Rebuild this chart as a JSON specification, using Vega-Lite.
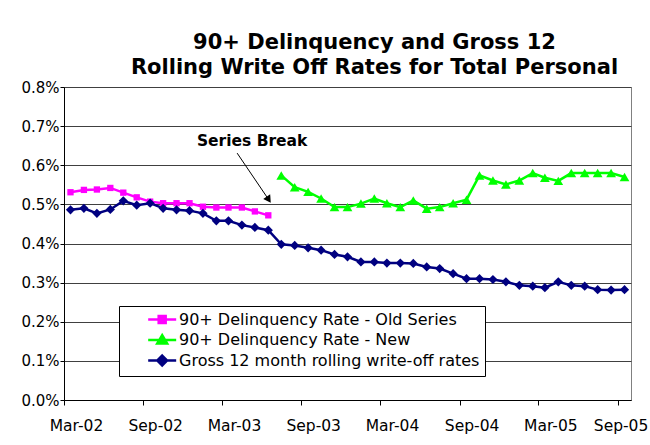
{
  "$schema": "https://vega.github.io/schema/vega-lite/v6.json",
  "width": 567,
  "height": 313,
  "autosize": "none",
  "padding": {"left": 64, "top": 87, "right": 19, "bottom": 45},
  "background": "white",
  "config": {
    "font": "DejaVu Sans",
    "view": {"stroke": "#808080", "strokeWidth": 1}
  },
  "title": {
    "text": ["90+ Delinquency and Gross 12", "Rolling Write Off Rates for Total Personal"],
    "font": "DejaVu Sans",
    "fontSize": 21,
    "fontWeight": "bold",
    "color": "black",
    "lineHeight": 25,
    "anchor": "middle",
    "dx": 27,
    "offset": 2
  },
  "data": {
    "values": [
      {"date": "2002-03-01", "series": "90+ Delinquency Rate - Old Series", "value": 0.531},
      {"date": "2002-04-01", "series": "90+ Delinquency Rate - Old Series", "value": 0.537},
      {"date": "2002-05-01", "series": "90+ Delinquency Rate - Old Series", "value": 0.538},
      {"date": "2002-06-01", "series": "90+ Delinquency Rate - Old Series", "value": 0.542},
      {"date": "2002-07-01", "series": "90+ Delinquency Rate - Old Series", "value": 0.530},
      {"date": "2002-08-01", "series": "90+ Delinquency Rate - Old Series", "value": 0.518},
      {"date": "2002-09-01", "series": "90+ Delinquency Rate - Old Series", "value": 0.507},
      {"date": "2002-10-01", "series": "90+ Delinquency Rate - Old Series", "value": 0.503},
      {"date": "2002-11-01", "series": "90+ Delinquency Rate - Old Series", "value": 0.503},
      {"date": "2002-12-01", "series": "90+ Delinquency Rate - Old Series", "value": 0.503},
      {"date": "2003-01-01", "series": "90+ Delinquency Rate - Old Series", "value": 0.494},
      {"date": "2003-02-01", "series": "90+ Delinquency Rate - Old Series", "value": 0.492},
      {"date": "2003-03-01", "series": "90+ Delinquency Rate - Old Series", "value": 0.492},
      {"date": "2003-04-01", "series": "90+ Delinquency Rate - Old Series", "value": 0.492},
      {"date": "2003-05-01", "series": "90+ Delinquency Rate - Old Series", "value": 0.482},
      {"date": "2003-06-01", "series": "90+ Delinquency Rate - Old Series", "value": 0.472},

      {"date": "2003-07-01", "series": "90+ Delinquency Rate - New", "value": 0.574},
      {"date": "2003-08-01", "series": "90+ Delinquency Rate - New", "value": 0.544},
      {"date": "2003-09-01", "series": "90+ Delinquency Rate - New", "value": 0.532},
      {"date": "2003-10-01", "series": "90+ Delinquency Rate - New", "value": 0.515},
      {"date": "2003-11-01", "series": "90+ Delinquency Rate - New", "value": 0.493},
      {"date": "2003-12-01", "series": "90+ Delinquency Rate - New", "value": 0.493},
      {"date": "2004-01-01", "series": "90+ Delinquency Rate - New", "value": 0.502},
      {"date": "2004-02-01", "series": "90+ Delinquency Rate - New", "value": 0.515},
      {"date": "2004-03-01", "series": "90+ Delinquency Rate - New", "value": 0.503},
      {"date": "2004-04-01", "series": "90+ Delinquency Rate - New", "value": 0.493},
      {"date": "2004-05-01", "series": "90+ Delinquency Rate - New", "value": 0.510},
      {"date": "2004-06-01", "series": "90+ Delinquency Rate - New", "value": 0.489},
      {"date": "2004-07-01", "series": "90+ Delinquency Rate - New", "value": 0.493},
      {"date": "2004-08-01", "series": "90+ Delinquency Rate - New", "value": 0.503},
      {"date": "2004-09-01", "series": "90+ Delinquency Rate - New", "value": 0.512},
      {"date": "2004-10-01", "series": "90+ Delinquency Rate - New", "value": 0.574},
      {"date": "2004-11-01", "series": "90+ Delinquency Rate - New", "value": 0.561},
      {"date": "2004-12-01", "series": "90+ Delinquency Rate - New", "value": 0.551},
      {"date": "2005-01-01", "series": "90+ Delinquency Rate - New", "value": 0.561},
      {"date": "2005-02-01", "series": "90+ Delinquency Rate - New", "value": 0.580},
      {"date": "2005-03-01", "series": "90+ Delinquency Rate - New", "value": 0.568},
      {"date": "2005-04-01", "series": "90+ Delinquency Rate - New", "value": 0.560},
      {"date": "2005-05-01", "series": "90+ Delinquency Rate - New", "value": 0.580},
      {"date": "2005-06-01", "series": "90+ Delinquency Rate - New", "value": 0.580},
      {"date": "2005-07-01", "series": "90+ Delinquency Rate - New", "value": 0.580},
      {"date": "2005-08-01", "series": "90+ Delinquency Rate - New", "value": 0.580},
      {"date": "2005-09-01", "series": "90+ Delinquency Rate - New", "value": 0.570},

      {"date": "2002-03-01", "series": "Gross 12 month rolling write-off rates", "value": 0.486},
      {"date": "2002-04-01", "series": "Gross 12 month rolling write-off rates", "value": 0.490},
      {"date": "2002-05-01", "series": "Gross 12 month rolling write-off rates", "value": 0.477},
      {"date": "2002-06-01", "series": "Gross 12 month rolling write-off rates", "value": 0.487},
      {"date": "2002-07-01", "series": "Gross 12 month rolling write-off rates", "value": 0.509},
      {"date": "2002-08-01", "series": "Gross 12 month rolling write-off rates", "value": 0.498},
      {"date": "2002-09-01", "series": "Gross 12 month rolling write-off rates", "value": 0.503},
      {"date": "2002-10-01", "series": "Gross 12 month rolling write-off rates", "value": 0.490},
      {"date": "2002-11-01", "series": "Gross 12 month rolling write-off rates", "value": 0.486},
      {"date": "2002-12-01", "series": "Gross 12 month rolling write-off rates", "value": 0.484},
      {"date": "2003-01-01", "series": "Gross 12 month rolling write-off rates", "value": 0.477},
      {"date": "2003-02-01", "series": "Gross 12 month rolling write-off rates", "value": 0.458},
      {"date": "2003-03-01", "series": "Gross 12 month rolling write-off rates", "value": 0.458},
      {"date": "2003-04-01", "series": "Gross 12 month rolling write-off rates", "value": 0.447},
      {"date": "2003-05-01", "series": "Gross 12 month rolling write-off rates", "value": 0.441},
      {"date": "2003-06-01", "series": "Gross 12 month rolling write-off rates", "value": 0.434},
      {"date": "2003-07-01", "series": "Gross 12 month rolling write-off rates", "value": 0.398},
      {"date": "2003-08-01", "series": "Gross 12 month rolling write-off rates", "value": 0.395},
      {"date": "2003-09-01", "series": "Gross 12 month rolling write-off rates", "value": 0.389},
      {"date": "2003-10-01", "series": "Gross 12 month rolling write-off rates", "value": 0.383},
      {"date": "2003-11-01", "series": "Gross 12 month rolling write-off rates", "value": 0.372},
      {"date": "2003-12-01", "series": "Gross 12 month rolling write-off rates", "value": 0.366},
      {"date": "2004-01-01", "series": "Gross 12 month rolling write-off rates", "value": 0.353},
      {"date": "2004-02-01", "series": "Gross 12 month rolling write-off rates", "value": 0.353},
      {"date": "2004-03-01", "series": "Gross 12 month rolling write-off rates", "value": 0.350},
      {"date": "2004-04-01", "series": "Gross 12 month rolling write-off rates", "value": 0.350},
      {"date": "2004-05-01", "series": "Gross 12 month rolling write-off rates", "value": 0.349},
      {"date": "2004-06-01", "series": "Gross 12 month rolling write-off rates", "value": 0.340},
      {"date": "2004-07-01", "series": "Gross 12 month rolling write-off rates", "value": 0.336},
      {"date": "2004-08-01", "series": "Gross 12 month rolling write-off rates", "value": 0.323},
      {"date": "2004-09-01", "series": "Gross 12 month rolling write-off rates", "value": 0.310},
      {"date": "2004-10-01", "series": "Gross 12 month rolling write-off rates", "value": 0.310},
      {"date": "2004-11-01", "series": "Gross 12 month rolling write-off rates", "value": 0.308},
      {"date": "2004-12-01", "series": "Gross 12 month rolling write-off rates", "value": 0.302},
      {"date": "2005-01-01", "series": "Gross 12 month rolling write-off rates", "value": 0.293},
      {"date": "2005-02-01", "series": "Gross 12 month rolling write-off rates", "value": 0.291},
      {"date": "2005-03-01", "series": "Gross 12 month rolling write-off rates", "value": 0.287},
      {"date": "2005-04-01", "series": "Gross 12 month rolling write-off rates", "value": 0.302},
      {"date": "2005-05-01", "series": "Gross 12 month rolling write-off rates", "value": 0.293},
      {"date": "2005-06-01", "series": "Gross 12 month rolling write-off rates", "value": 0.291},
      {"date": "2005-07-01", "series": "Gross 12 month rolling write-off rates", "value": 0.282},
      {"date": "2005-08-01", "series": "Gross 12 month rolling write-off rates", "value": 0.281},
      {"date": "2005-09-01", "series": "Gross 12 month rolling write-off rates", "value": 0.282}
    ]
  },
  "encoding": {
    "x": {
      "field": "date",
      "type": "temporal",
      "scale": {
        "domain": [
          {"year": 2002, "month": 2, "date": 14, "utc": true},
          {"year": 2005, "month": 9, "date": 16, "utc": true}
        ]
      },
      "axis": {
        "title": null,
        "grid": false,
        "values": [
          {"year": 2002, "month": 2, "date": 14, "utc": true},
          {"year": 2002, "month": 8, "date": 16, "utc": true},
          {"year": 2003, "month": 2, "date": 14, "utc": true},
          {"year": 2003, "month": 8, "date": 16, "utc": true},
          {"year": 2004, "month": 2, "date": 14, "utc": true},
          {"year": 2004, "month": 8, "date": 16, "utc": true},
          {"year": 2005, "month": 2, "date": 14, "utc": true},
          {"year": 2005, "month": 8, "date": 16, "utc": true}
        ],
        "labelExpr": "utcFormat(datum.value + 1728000000, '%b-%y')",
        "labelOffset": {"condition": {"test": "datum.value > 1117584000000", "value": 3}, "value": 12},
        "labelFlush": false,
        "labelOverlap": false,
        "labelFont": "DejaVu Sans",
        "labelFontSize": 15.5,
        "labelColor": "black",
        "labelPadding": 13,
        "tickSize": 5,
        "tickColor": "black",
        "domainColor": "black"
      }
    },
    "y": {
      "field": "value",
      "type": "quantitative",
      "scale": {"domain": [0, 0.8], "nice": false, "zero": true},
      "axis": {
        "title": null,
        "values": [0, 0.1, 0.2, 0.3, 0.4, 0.5, 0.6, 0.7, 0.8],
        "labelExpr": "format(datum.value, '.1f') + '%'",
        "grid": true,
        "gridColor": "#404040",
        "gridWidth": 1,
        "tickSize": 4,
        "tickColor": "black",
        "domainColor": "black",
        "labelFont": "DejaVu Sans",
        "labelFontSize": 15,
        "labelColor": "black",
        "labelPadding": 1
      }
    }
  },
  "layer": [
    {
      "mark": {"type": "line", "strokeWidth": 2.5},
      "encoding": {
        "color": {
          "field": "series",
          "type": "nominal",
          "scale": {
            "domain": ["90+ Delinquency Rate - Old Series", "90+ Delinquency Rate - New", "Gross 12 month rolling write-off rates"],
            "range": ["#FF00FF", "#00FF00", "#000080"]
          },
          "legend": {
            "title": null,
            "orient": "none",
            "legendX": 55,
            "legendY": 219,
            "strokeColor": "black",
            "fillColor": "white",
            "padding": 5,
            "cornerRadius": 0,
            "labelFont": "DejaVu Sans",
            "labelFontSize": 16,
            "labelColor": "black",
            "labelLimit": 500,
            "labelOffset": 38,
            "symbolSize": 196,
            "symbolStrokeWidth": 2.5,
            "rowPadding": 1.5,
            "encode": {
              "symbols": {
                "update": {
                  "shape": {"signal": "datum.value === '90+ Delinquency Rate - Old Series' ? 'M2.24,0H6.24M3.74,-0.5H4.74V0.5H3.74Z' : datum.value === '90+ Delinquency Rate - New' ? 'M2.24,0H6.24M4.24,-0.7L4.95,0.5H3.53Z' : 'M2.24,0H6.24M4.24,-0.7L4.94,0L4.24,0.7L3.54,0Z'"},
                  "fill": {"scale": "color", "field": "value"},
                  "stroke": {"scale": "color", "field": "value"},
                  "strokeWidth": {"value": 2.5},
                  "opacity": {"value": 1}
                }
              }
            }
          }
        }
      }
    },
    {
      "transform": [{"filter": "datum.series === '90+ Delinquency Rate - Old Series'"}],
      "mark": {"type": "point", "shape": "square", "size": 40, "filled": true, "opacity": 1},
      "encoding": {"color": {"field": "series", "type": "nominal"}}
    },
    {
      "transform": [{"filter": "datum.series === '90+ Delinquency Rate - New'"}],
      "mark": {"type": "point", "shape": "triangle-up", "size": 95, "filled": true, "opacity": 1},
      "encoding": {"color": {"field": "series", "type": "nominal"}}
    },
    {
      "transform": [{"filter": "datum.series === 'Gross 12 month rolling write-off rates'"}],
      "mark": {"type": "point", "shape": "diamond", "size": 85, "filled": true, "opacity": 1},
      "encoding": {"color": {"field": "series", "type": "nominal"}}
    },
    {
      "data": {"values": [{"date": "2002-12-18", "value": 0.648, "label": "Series Break"}]},
      "mark": {"type": "text", "align": "left", "baseline": "alphabetic", "font": "DejaVu Sans", "fontWeight": "bold", "fontSize": 15.5, "color": "black"},
      "encoding": {"text": {"field": "label"}}
    },
    {
      "data": {"values": [{"date": "2003-03-21", "value": 0.631, "date2": "2003-06-02", "value2": 0.512}]},
      "mark": {"type": "rule", "color": "black", "strokeWidth": 1},
      "encoding": {"x2": {"field": "date2"}, "y2": {"field": "value2"}}
    },
    {
      "data": {"values": [{"date": "2003-06-02", "value": 0.512}]},
      "mark": {"type": "point", "shape": "triangle-up", "angle": 146, "size": 70, "filled": true, "color": "black", "opacity": 1},
      "encoding": {}
    }
  ]
}
